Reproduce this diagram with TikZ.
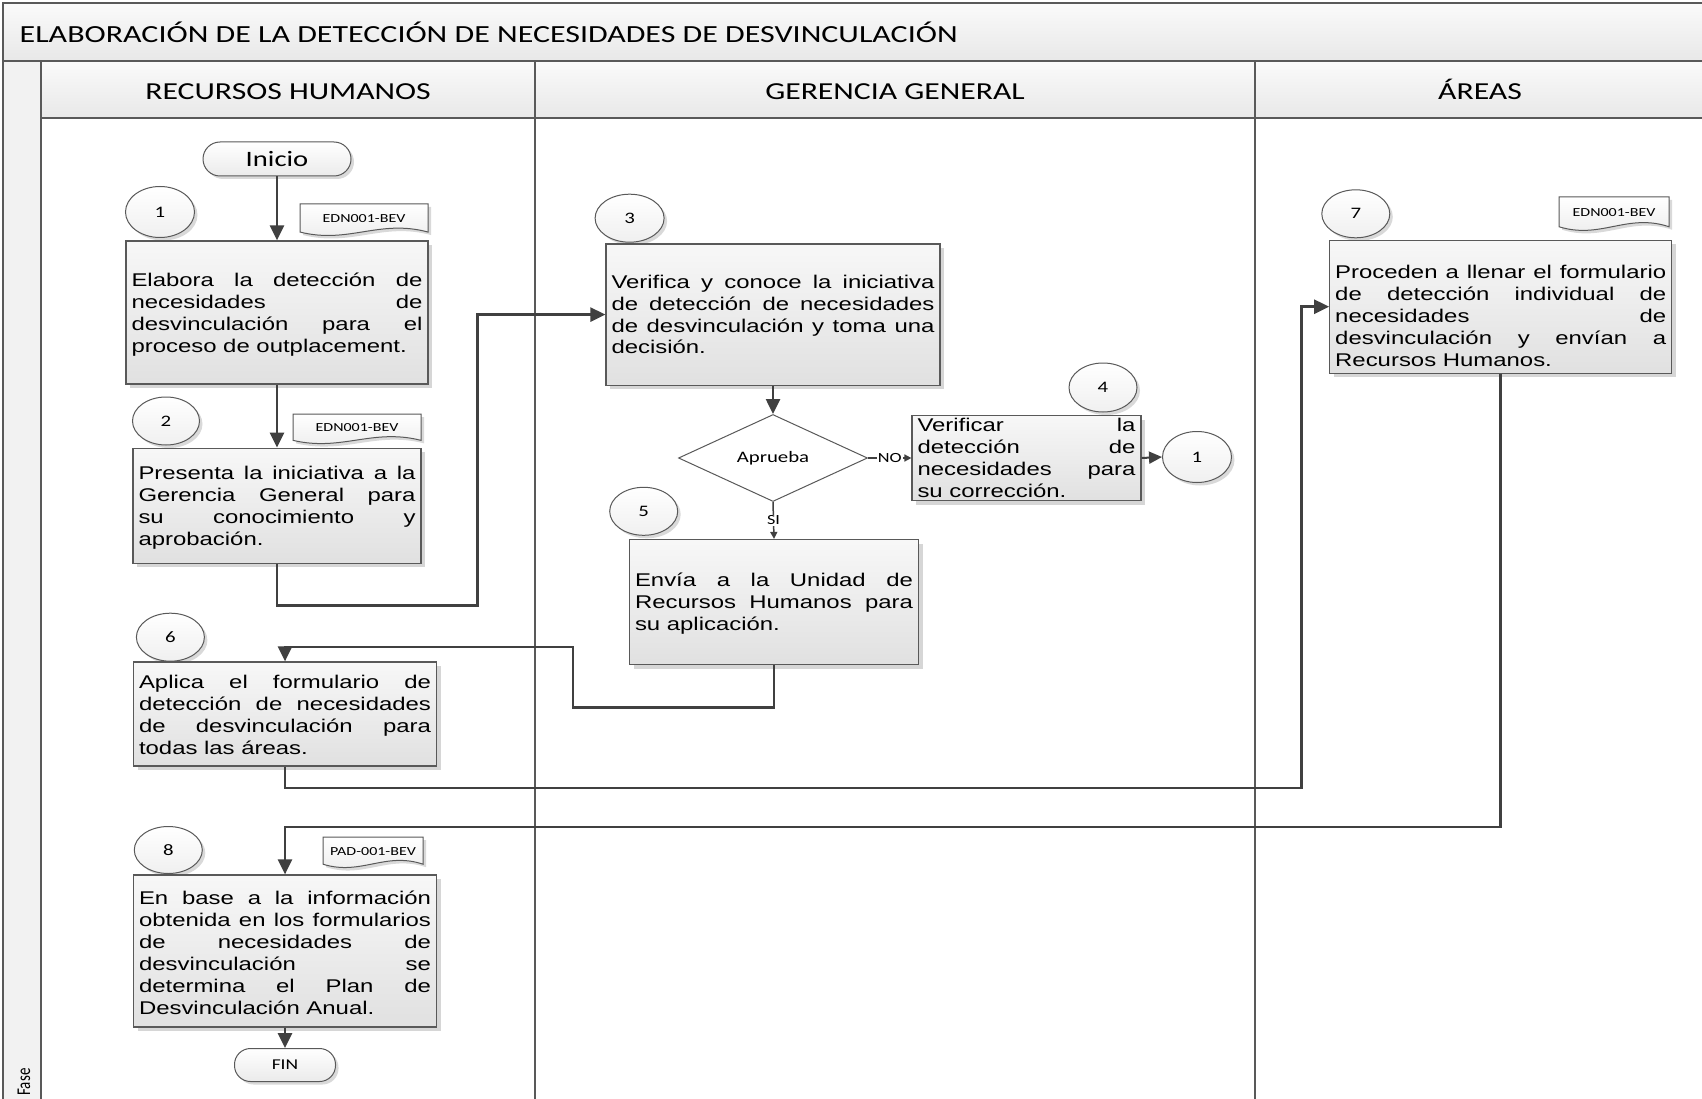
\documentclass[tikz,border=0pt]{standalone}
\usepackage{fontspec}
\setmainfont{Liberation Sans}
\newfontfamily\calfont{Carlito}
\usetikzlibrary{arrows.meta,shapes.geometric,shadows}

\definecolor{frameline}{HTML}{595959}
\definecolor{connline}{HTML}{404040}
\definecolor{bandtop}{HTML}{FAFAFA}
\definecolor{bandbot}{HTML}{E8E8E8}

% all lettering of the chart is drawn horizontally widened
\newcommand{\wide}[1]{\scalebox{1.3}[1]{#1}}
\newcommand{\cfont}[1]{\calfont\fontsize{#1}{#1}\selectfont}
% justified paragraph for a process box of width #1
\newcommand{\boxpar}[2]{\scalebox{1.3}[1]{\parbox[t]{\dimexpr(#1pt-11pt)*10/13\relax}{\fontsize{18.4}{22}\selectfont #2}}}

\tikzset{
  band/.style={draw=frameline, line width=1.5pt, top color=bandtop, bottom color=bandbot},
  lane/.style={draw=frameline, line width=1.5pt},
  procbox/.style={rectangle, draw=frameline, line width=1.2pt, top color=white!97!black,
    bottom color=white!88!black, inner sep=0pt,
    drop shadow={shadow xshift=4pt, shadow yshift=-4pt, fill=black, opacity=0.16}},
  boxtext/.style={anchor=base, inner sep=0pt},
  numcirc/.style={ellipse, draw=frameline, line width=1pt, top color=white, bottom color=white!94!black,
    inner sep=0pt, font={\cfont{16}},
    drop shadow={shadow xshift=3pt, shadow yshift=-3pt, fill=black, opacity=0.15}},
  terminal/.style={rectangle, draw=frameline, line width=1pt, top color=white, bottom color=white!92!black,
    inner sep=0pt, drop shadow={shadow xshift=3pt, shadow yshift=-3pt, fill=black, opacity=0.15}},
  decision/.style={diamond, draw=frameline, line width=1pt, fill=white, inner sep=0pt, aspect=2.17,
    font={\cfont{16}}},
  doclabel/.style={inner sep=0pt, font={\cfont{12.3}}},
  conn/.style={draw=connline, line width=2.6pt, -{Triangle[length=15pt,width=14pt]}},
  midconn/.style={draw=connline, line width=2pt, -{Triangle[length=13pt,width=12pt]}},
  smallconn/.style={draw=connline, line width=1.5pt, -{Triangle[length=7pt,width=7pt]}},
  lbl/.style={fill=white, inner sep=1pt, font={\cfont{14}}},
  pics/docsheet/.style n args={3}{code={
    \path[fill=black, opacity=0.15, shift={(3,3)}] (0,0) -- (#1,0) -- (#1,{0.85*#2})
      .. controls ({0.62*#1},{0.45*#2}) and ({0.38*#1},{1.22*#2}) .. (0,{0.85*#2}) -- cycle;
    \path[draw=frameline, line width=1pt, top color=white, bottom color=white!92!black]
      (0,0) -- (#1,0) -- (#1,{0.85*#2})
      .. controls ({0.62*#1},{0.45*#2}) and ({0.38*#1},{1.22*#2}) .. (0,{0.85*#2}) -- cycle;
    \node[doclabel] (-lbl) at ({0.5*#1},{0.45*#2}) {\wide{#3}};
  }},
}

\begin{document}
\begin{tikzpicture}[x=1pt, y=-1pt]
\clip (0,0) rectangle (1702,1099);
\fill[white] (0,0) rectangle (1702,1099);

% ---- swimlane frame ----
\path[band] (3,3) rectangle (1706,61);
\path[draw=frameline, line width=1.5pt, fill=white!95!black] (3,61) rectangle (41,1110);
\path[band] (41,61) rectangle (1706,118);
\draw[lane] (535,61) -- (535,1110);
\draw[lane] (1255,61) -- (1255,1110);
\draw[lane] (41,118) -- (41,1110);

\node[anchor=base west, inner sep=0pt, font={\cfont{24.6}}] (title) at (19.5,42.5)
  {\wide{ELABORACIÓN DE LA DETECCIÓN DE NECESIDADES DE DESVINCULACIÓN}};
\node[anchor=base, inner sep=0pt, font={\cfont{24.4}}] (hrh) at (288,100) {\wide{RECURSOS HUMANOS}};
\node[anchor=base, inner sep=0pt, font={\cfont{24.4}}] (hgg) at (895,100) {\wide{GERENCIA GENERAL}};
\node[anchor=base, inner sep=0pt, font={\cfont{24.4}}] (har) at (1480,100) {\wide{ÁREAS}};
\node[rotate=90, inner sep=0pt, font={\cfont{15}}] (fase) at (24,1082) {\scalebox{1}[1.3]{Fase}};

% ---- Recursos Humanos ----
\node[terminal, rounded corners=17pt, minimum width=148, minimum height=34, font={\cfont{22}}] (ini) at (277,159) {\wide{Inicio}};

\node[numcirc, minimum width=69, minimum height=51] (c1) at (160,212) {\wide{1}};
\pic (d1) at (300,204) {docsheet={128}{33}{EDN001-BEV}};
\node[procbox, minimum width=302, minimum height=143] (b1) at (277,312.5) {};
\node[boxtext] (t1) at (277,286.5) {\boxpar{302}{Elabora la detección de\linebreak necesidades de\linebreak desvinculación para el\linebreak proceso de outplacement.}};

\node[numcirc, minimum width=67, minimum height=48] (c2) at (166,421) {\wide{2}};
\pic (d2) at (293,414) {docsheet={128}{31}{EDN001-BEV}};
\node[procbox, minimum width=288, minimum height=115] (b2) at (277,505.7) {};
\node[boxtext] (t2) at (277,479.5) {\boxpar{288}{Presenta la iniciativa a la\linebreak Gerencia General para\linebreak su conocimiento y\linebreak aprobación.}};

\node[numcirc, minimum width=68, minimum height=48] (c6) at (170.4,637.2) {\wide{6}};
\node[procbox, minimum width=303, minimum height=104] (b6) at (285,714) {};
\node[boxtext] (t6) at (285,688.5) {\boxpar{303}{Aplica el formulario de\linebreak detección de necesidades\linebreak de desvinculación para\linebreak todas las áreas.}};

\node[numcirc, minimum width=68, minimum height=47] (c8) at (168.3,850) {\wide{8}};
\pic (d8) at (323,837) {docsheet={100}{32}{PAD-001-BEV}};
\node[procbox, minimum width=303, minimum height=152] (b8) at (285,951) {};
\node[boxtext] (t8) at (285,904.5) {\boxpar{303}{En base a la información\linebreak obtenida en los formularios\linebreak de necesidades de\linebreak desvinculación se\linebreak determina el Plan de\linebreak Desvinculación Anual.}};

\node[terminal, rounded corners=16pt, minimum width=101, minimum height=33, font={\cfont{15}}] (fin) at (285,1065) {\wide{FIN}};

% ---- Gerencia General ----
\node[numcirc, minimum width=69, minimum height=48] (c3) at (629.6,218.2) {\wide{3}};
\node[procbox, minimum width=334, minimum height=141] (b3) at (773,314.6) {};
\node[boxtext] (t3) at (773,288) {\boxpar{334}{Verifica y conoce la iniciativa\linebreak de detección de necesidades\linebreak de desvinculación y toma una\linebreak decisión.}};

\node[decision, minimum width=189, minimum height=87] (dia) at (773,458) {\wide{Aprueba}};

\node[numcirc, minimum width=68, minimum height=49] (c4) at (1103,387.5) {\wide{4}};
\node[procbox, minimum width=229, minimum height=85] (b4) at (1026.5,458) {};
\node[boxtext] (t4) at (1026.5,431.5) {\boxpar{229}{Verificar la\linebreak detección de\linebreak necesidades para\linebreak su corrección.}};
\node[numcirc, minimum width=69, minimum height=51] (r1) at (1197,457) {\wide{1}};

\node[numcirc, minimum width=68, minimum height=48] (c5) at (643.7,511.3) {\wide{5}};
\node[procbox, minimum width=289, minimum height=125] (b5) at (774,602) {};
\node[boxtext] (t5) at (774,586.5) {\boxpar{289}{Envía a la Unidad de\linebreak Recursos Humanos para\linebreak su aplicación.}};

% ---- Areas ----
\node[numcirc, minimum width=68, minimum height=48] (c7) at (1355.8,213.8) {\wide{7}};
\pic (d7) at (1559,197) {docsheet={110}{35}{EDN001-BEV}};
\node[procbox, minimum width=342, minimum height=133] (b7) at (1500.7,306.7) {};
\node[boxtext] (t7) at (1500.7,279) {\boxpar{342}{Proceden a llenar el formulario\linebreak de detección individual de\linebreak necesidades de\linebreak desvinculación y envían a\linebreak Recursos Humanos.}};

% ---- connectors ----
\draw[conn] (ini.south) -- (b1.north);
\draw[conn] (b1.south) -- (b2.north);
\draw[conn] (b2.south) |- (477.6,605.7) |- (b3.west);
\draw[conn] (b3.south) -- (dia.north);
\draw[smallconn] (dia.east) -- node[lbl] (lno) {\wide{NO}} (b4.west);
\draw[smallconn] (dia.south) -- node[lbl] (lsi) {\wide{SI}} (b5.north);
\draw[midconn] (b4.east) -- (r1.west);
\draw[conn] (b5.south) |- (573,707.7) |- (285,647) -- (b6.north);
\draw[conn] (b6.south) |- (1301.5,788) |- (b7.west);
\draw[conn] (b7.south) |- (285,827) -- (b8.north);
\draw[conn] (b8.south) -- (fin.north);
\end{tikzpicture}
\end{document}
